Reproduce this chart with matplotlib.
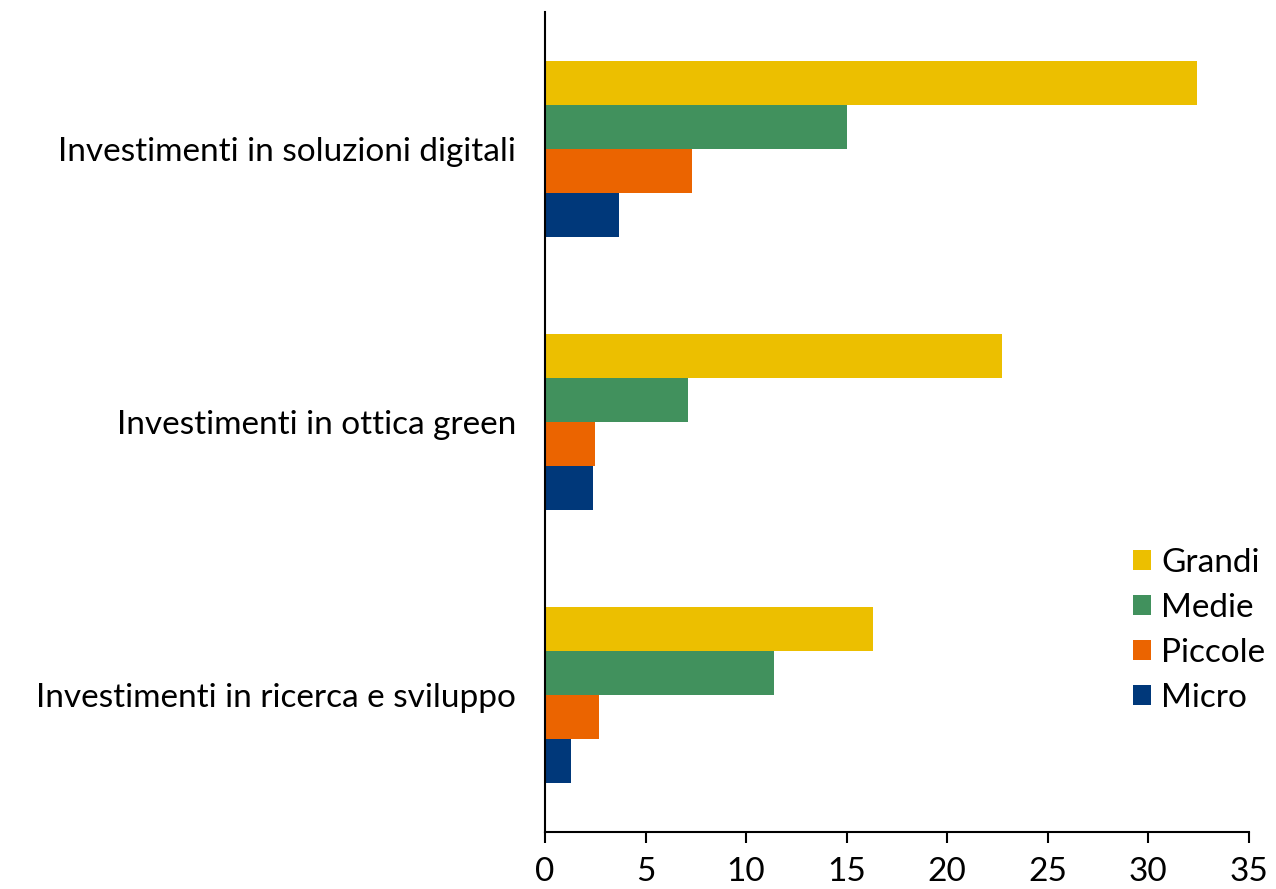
import numpy as np
import matplotlib.pyplot as plt

categories = ["Investimenti in soluzioni digitali",
              "Investimenti in ottica green",
              "Investimenti in ricerca e sviluppo"]
series = ["Grandi", "Medie", "Piccole", "Micro"]
grandi = [32.4, 22.7, 16.3]
medie = [15.0, 7.1, 11.4]
piccole = [7.3, 2.5, 2.7]
micro = [3.7, 2.4, 1.3]
colors = ["#ECBF00", "#41915D", "#EB6400", "#00387A"]

plt.rcParams['font.family'] = ['Lato', 'DejaVu Sans']

fig = plt.figure(figsize=(12.76, 8.89), dpi=100)
ax = fig.add_axes([0.4271, 0.0641, 0.5517, 0.9224])

y = np.arange(len(categories))
h = 0.161
for i, (name, vals, c) in enumerate(zip(series, [grandi, medie, piccole, micro], colors)):
    ax.barh(y - 1.5 * h + i * h, vals, height=h, color=c, label=name)

ax.set_ylim(2.5, -0.5)
ax.set_xlim(0, 35)
ax.set_xticks(np.arange(0, 36, 5))
ax.set_yticks(y)
ax.set_yticklabels(categories)
ax.tick_params(axis='y', length=0, pad=21, labelsize=24)
ax.tick_params(axis='x', length=8, width=1.5, labelsize=24, pad=10)
ax.spines['top'].set_visible(False)
ax.spines['right'].set_visible(False)
ax.spines['left'].set_linewidth(1.5)
ax.spines['bottom'].set_linewidth(1.5)

ax.legend(loc='center left', frameon=False, fontsize=24,
          handlelength=0.55, handleheight=0.55, handletextpad=0.3,
          labelspacing=0.45, borderpad=0, borderaxespad=0,
          bbox_to_anchor=(0.888, 0.291), bbox_transform=fig.transFigure)

fig.savefig("out.png", dpi=100)
